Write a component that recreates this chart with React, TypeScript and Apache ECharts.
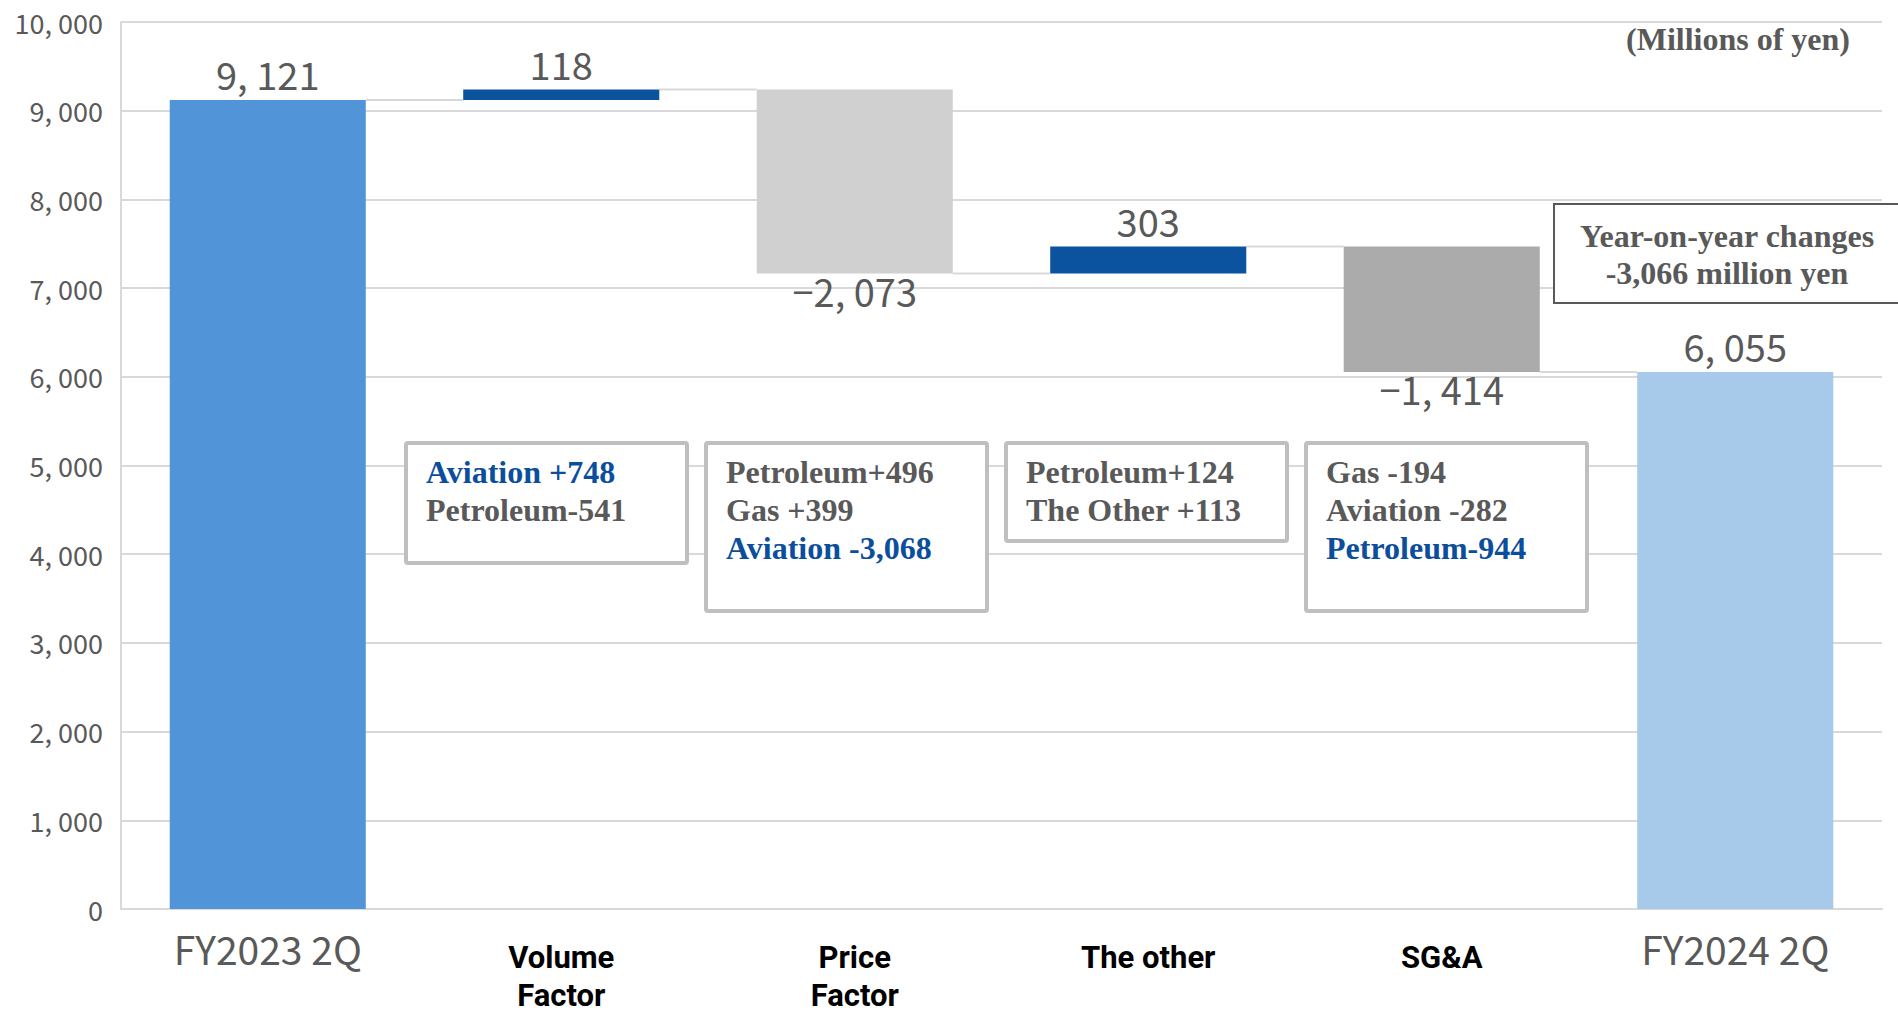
import React, { useEffect, useRef } from 'react';
import * as echarts from 'echarts';

// Operating income bridge (millions of yen)
const categories = ['FY2023 2Q', 'Volume\nFactor', 'Price\nFactor', 'The other', 'SG&A', 'FY2024 2Q'];
const startTotal = 9121;
const changes = [118, -2073, 303, -1414];
const endTotal = 6055;

const yMin = 0;
const yMax = 10000;
const yInterval = 1000;

const barColors = ['#5195D8', '#0B539F', '#D0D0D0', '#0B539F', '#ABABAB', '#A7CAEB'];

// Breakdown notes per change factor; "hl" lines are shown in blue
const volumeNotes = [
  { text: 'Aviation +748', hl: true },
  { text: 'Petroleum-541', hl: false },
];
const priceNotes = [
  { text: 'Petroleum+496', hl: false },
  { text: 'Gas +399', hl: false },
  { text: 'Aviation -3,068', hl: true },
];
const otherNotes = [
  { text: 'Petroleum+124', hl: false },
  { text: 'The Other +113', hl: false },
];
const sgaNotes = [
  { text: 'Gas -194', hl: false },
  { text: 'Aviation -282', hl: false },
  { text: 'Petroleum-944', hl: true },
];

const unitNote = '(Millions of yen)';
const summaryLines = ['Year-on-year changes', '-3,066 million yen'];

const SANS = "'Noto Sans CJK JP', 'Noto Sans', sans-serif";
const BOLD_SANS = "Roboto, 'Noto Sans', sans-serif";
const SERIF = "'Liberation Serif', 'Times New Roman', serif";
const GRAY = '#595959';
const BLUE = '#0B4F9C';

function fmt(v: number): string {
  const s = Math.abs(v).toLocaleString('en-US').replace(/,/g, ', ');
  return (v < 0 ? '\u2212' : '') + s;
}

function noteBox(x: number, y: number, w: number, h: number, notes: { text: string; hl: boolean }[]) {
  return {
    type: 'group',
    z: 50,
    children: [
      {
        type: 'rect',
        z: 50,
        shape: { x, y, width: w, height: h, r: 2 },
        style: { fill: '#ffffff', stroke: '#BFBFBF', lineWidth: 4 },
      },
      {
        type: 'text',
        z: 51,
        x: x + 20,
        y: y + 10,
        style: {
          text: notes.map((n) => `{${n.hl ? 'b' : 'g'}|${n.text}}`).join('\n'),
          verticalAlign: 'top',
          align: 'left',
          rich: {
            g: { fontFamily: SERIF, fontWeight: 'bold', fontSize: 32, lineHeight: 38, fill: GRAY, color: GRAY },
            b: { fontFamily: SERIF, fontWeight: 'bold', fontSize: 32, lineHeight: 38, fill: BLUE, color: BLUE },
          },
        },
      },
    ],
  };
}

export default function App() {
  const ref = useRef<HTMLDivElement>(null);

  useEffect(() => {
    if (!ref.current) return;
    const chart = echarts.init(ref.current, undefined, { renderer: 'svg' });

    // Waterfall: invisible base + visible segment
    const bases: number[] = [0];
    const heights: number[] = [startTotal];
    const signed: number[] = [startTotal];
    const connectors: number[][] = [[0, startTotal]];
    let running = startTotal;
    changes.forEach((d, i) => {
      const next = running + d;
      bases.push(Math.min(running, next));
      heights.push(Math.abs(d));
      signed.push(d);
      running = next;
      connectors.push([i + 1, running]);
    });
    bases.push(0);
    heights.push(endTotal);
    signed.push(endTotal);

    const visibleData = heights.map((h, i) => ({
      value: h,
      itemStyle: { color: barColors[i] },
      label: {
        position: signed[i] < 0 ? 'bottom' : 'top',
        distance: signed[i] < 0 ? -2 : 7,
        formatter: () => fmt(signed[i]),
      },
    }));

    chart.setOption({
      animation: false,
      grid: { left: 121, right: 16, top: 22, bottom: 107, containLabel: false },
      xAxis: {
        type: 'category',
        data: categories,
        axisTick: { show: false },
        axisLine: { lineStyle: { color: '#D9D9D9', width: 2 } },
        axisLabel: {
          interval: 0,
          margin: 30,
          formatter: (value: string, index: number) => {
            if (index === 0 || index === categories.length - 1) return `{g|${value}}`;
            return value
              .split('\n')
              .map((s, i) => `{${i === 0 ? 'b1' : 'b2'}|${s}}`)
              .join('\n');
          },
          rich: {
            g: { fontFamily: SANS, fontSize: 39, lineHeight: 18, color: GRAY },
            b1: { fontFamily: BOLD_SANS, fontSize: 31, fontWeight: 'bold', lineHeight: 36, color: '#000000' },
            b2: { fontFamily: BOLD_SANS, fontSize: 31, fontWeight: 'bold', lineHeight: 40, color: '#000000' },
          },
        },
      },
      yAxis: {
        type: 'value',
        min: yMin,
        max: yMax,
        interval: yInterval,
        axisLine: { show: true, lineStyle: { color: '#D9D9D9', width: 2 } },
        axisTick: { show: false },
        splitLine: { lineStyle: { color: '#D9D9D9', width: 2 } },
        axisLabel: {
          margin: 18,
          fontFamily: SANS,
          fontSize: 27,
          color: GRAY,
          formatter: (v: number) => fmt(v),
        },
      },
      series: [
        {
          type: 'custom',
          name: 'connector',
          silent: true,
          z: 1,
          data: connectors,
          renderItem: (params: any, api: any) => {
            const p = api.coord([api.value(0), api.value(1)]);
            const band = api.size([1, 0])[0];
            const bw = band * 0.668;
            return {
              type: 'line',
              shape: { x1: p[0] + bw / 2, y1: p[1], x2: p[0] + band - bw / 2, y2: p[1] },
              style: { stroke: '#D9D9D9', lineWidth: 2 },
            };
          },
        },
        {
          type: 'bar',
          name: 'base',
          stack: 'total',
          silent: true,
          barWidth: '66.8%',
          itemStyle: { color: 'transparent' },
          data: bases,
          z: 2,
        },
        {
          type: 'bar',
          name: 'value',
          stack: 'total',
          barWidth: '66.8%',
          z: 3,
          label: {
            show: true,
            fontFamily: SANS,
            fontSize: 38,
            color: GRAY,
          },
          data: visibleData,
        },
      ],
      graphic: [
        {
          type: 'text',
          z: 50,
          x: 1850,
          y: 39,
          style: {
            text: unitNote,
            align: 'right',
            verticalAlign: 'middle',
            fontFamily: SERIF,
            fontWeight: 'bold',
            fontSize: 32,
            fill: GRAY,
          },
        },
        noteBox(406, 443, 281, 120, volumeNotes),
        noteBox(706, 443, 281, 168, priceNotes),
        noteBox(1006, 443, 281, 98, otherNotes),
        noteBox(1306, 443, 281, 168, sgaNotes),
        {
          type: 'group',
          z: 50,
          children: [
            {
              type: 'rect',
              z: 50,
              shape: { x: 1554, y: 204, width: 400, height: 99 },
              style: { fill: '#ffffff', stroke: '#595959', lineWidth: 2 },
            },
            {
              type: 'text',
              z: 51,
              x: 1727,
              y: 254,
              style: {
                text: summaryLines.join('\n'),
                align: 'center',
                verticalAlign: 'middle',
                fontFamily: SERIF,
                fontWeight: 'bold',
                fontSize: 32,
                lineHeight: 37,
                fill: GRAY,
              },
            },
          ],
        },
      ],
    });

    return () => chart.dispose();
  }, []);

  return (
    <div
      ref={ref}
      style={{ position: 'fixed', left: 0, top: 0, width: 1898, height: 1016, background: '#ffffff' }}
    />
  );
}
